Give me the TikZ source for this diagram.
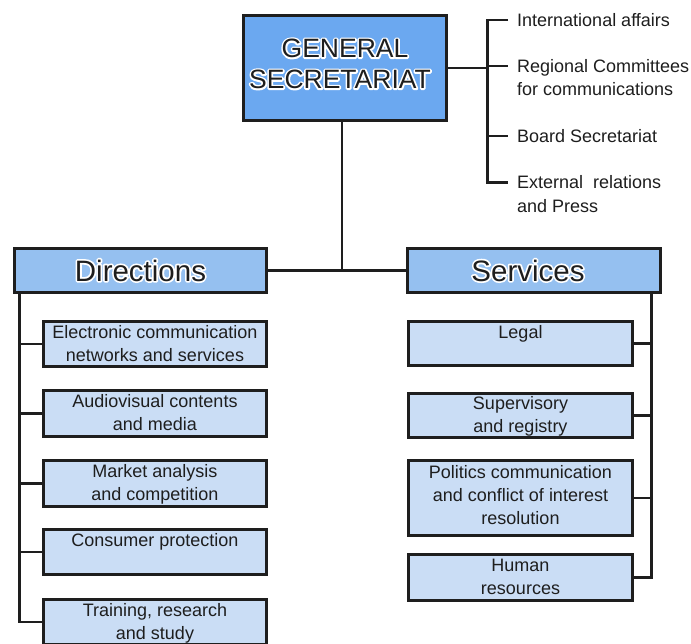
\documentclass[tikz,border=0pt]{standalone}
\usepackage{fontspec}
\setmainfont{Liberation Sans}
\definecolor{topfill}{HTML}{6BA8F0}
\definecolor{headfill}{HTML}{95C0F0}
\definecolor{subfill}{HTML}{CADDF5}
\definecolor{ink}{HTML}{1E1E1E}
\newcommand{\celltext}[4]{\parbox[c][#2][t]{#1}{\centering\rule{0pt}{#3}#4}}
\newcommand{\halo}[1]{\leavevmode\rlap{\special{pdf:code q 1 1 1 RG 2 Tr 3.4 w 1 j}\textcolor{white}{#1}\special{pdf:code Q}}#1}
\begin{document}
\begin{tikzpicture}[x=1pt,y=-1pt,
  boxbase/.style={draw=ink, line width=2.8pt, inner sep=0pt, outer sep=0pt, text=ink},
  topbox/.style={boxbase, fill=topfill, font=\fontsize{26.5}{31}\selectfont},
  headbox/.style={boxbase, fill=headfill, minimum width=252pt, minimum height=44pt, font=\fontsize{29.5}{32}\selectfont},
  subbox/.style={boxbase, fill=subfill, font=\fontsize{18}{23}\selectfont},
  sidelabel/.style={anchor=base west, inner sep=0pt, text=ink, font=\fontsize{18}{23.5}\selectfont},
  wire/.style={draw=ink, line width=2.5pt}]
\useasboundingbox (0,0) rectangle (691,644);
\fill[white] (0,0) rectangle (691,644);

% top box
\node[topbox] (top) at (345,68) {\celltext{203pt}{105pt}{42pt}{\halo{GENERAL}\hspace*{10pt}\\\halo{SECRETARIAT}\hspace*{10pt}}};

% side labels
\node[sidelabel] (l1) at (517,26.5) {International affairs};
\node[sidelabel] (l2) at (517,72.5) {\parbox[t]{175pt}{\raggedright Regional Committees\\for communications}};
\node[sidelabel] (l3) at (517,142.5) {Board Secretariat};
\node[sidelabel] (l4) at (517,189) {\parbox[t]{175pt}{\raggedright External\ \ relations\\and Press}};

\coordinate (bx) at ([xshift=41pt]top.east);
\coordinate (t1) at ([shift={(-9pt,6.5pt)}]l1.base west);
\coordinate (t2) at ([shift={(-9pt,6.5pt)}]l2.base west);
\coordinate (t3) at ([shift={(-9pt,6.5pt)}]l3.base west);
\coordinate (t4) at ([shift={(-9pt,6.5pt)}]l4.base west);
\draw[wire] (top.east) -- (top.east -| bx);
\draw[wire] (t1) -| (bx |- t4) -- (t4);
\draw[wire] (bx |- t2) -- (t2);
\draw[wire] (bx |- t3) -- (t3);

% headers
\node[headbox] (dir) at (140.5,270.5) {\halo{Directions}};
\node[headbox, minimum width=253pt] (srv) at (534,270.5) {\halo{Services}\hspace*{12pt}};

\draw[wire] (dir.east) -- (srv.west);
\draw[wire] ([xshift=-3pt]top.south) -- ([xshift=-3pt]top.south |- dir.east);

% directions
\node[subbox] (d1) at (155,344) {\celltext{223pt}{45.5pt}{17pt}{Electronic communication\\networks and services}};
\node[subbox] (d2) at (155,413.5) {\celltext{223pt}{45.5pt}{17pt}{Audiovisual contents\\and media}};
\node[subbox] (d3) at (155,483.5) {\celltext{223pt}{45.5pt}{17pt}{Market analysis\\and competition}};
\node[subbox] (d4) at (155,552) {\celltext{223pt}{45.5pt}{17pt}{Consumer protection}};
\node[subbox] (d5) at (155,622) {\celltext{223pt}{45.5pt}{17pt}{Training, research\\and study}};

\coordinate (lt) at ([xshift=5pt]dir.south west);
\draw[wire] (lt) |- (d5.west);
\draw[wire] (lt |- d1.west) -- (d1.west);
\draw[wire] (lt |- d2.west) -- (d2.west);
\draw[wire] (lt |- d3.west) -- (d3.west);
\draw[wire] (lt |- d4.west) -- (d4.west);

% services
\node[subbox] (s1) at (520.5,343.5) {\celltext{224pt}{44.5pt}{17.5pt}{Legal}};
\node[subbox] (s2) at (520.5,415.5) {\celltext{224pt}{44.5pt}{16.5pt}{Supervisory\\and registry}};
\node[subbox] (s3) at (520.5,498) {\celltext{224pt}{75pt}{17.5pt}{Politics communication\\and conflict of interest\\resolution}};
\node[subbox] (s4) at (520.5,577.5) {\celltext{224pt}{46pt}{17pt}{Human\\resources}};

\coordinate (rt) at ([xshift=-9pt]srv.south east);
\draw[wire] (rt) |- (s4.east);
\draw[wire] (rt |- s1.east) -- (s1.east);
\draw[wire] (rt |- s2.east) -- (s2.east);
\draw[wire] (rt |- s3.east) -- (s3.east);
\end{tikzpicture}
\end{document}
